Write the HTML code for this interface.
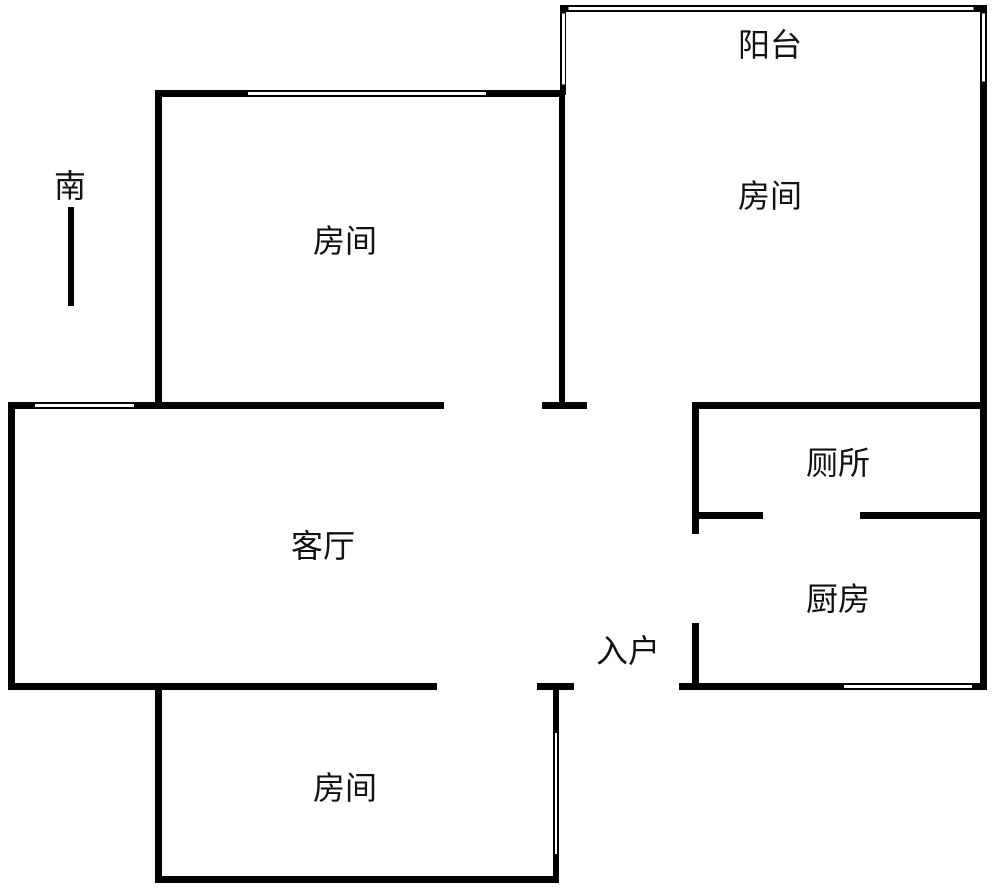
<!DOCTYPE html>
<html><head><meta charset="utf-8"><style>
html,body{margin:0;padding:0;background:#fff;}
svg{display:block;}
text{font-family:"Liberation Sans","Noto Sans CJK SC",sans-serif;font-size:32px;fill:#111;text-anchor:middle;}
</style></head><body>
<svg width="1000" height="893" viewBox="0 0 1000 893" xmlns="http://www.w3.org/2000/svg">
<g fill="#000">
<rect x="68" y="207" width="6" height="99"/>
<rect x="155" y="90" width="410" height="7"/>
<rect x="155" y="90" width="7" height="318"/>
<rect x="559" y="90" width="6" height="318"/>
<rect x="542" y="402" width="45" height="7"/>
<rect x="8" y="402" width="436" height="7"/>
<rect x="8" y="402" width="7" height="288"/>
<rect x="8" y="683" width="429" height="7"/>
<rect x="560" y="5" width="6" height="90"/>
<rect x="560" y="5" width="427" height="7"/>
<rect x="980" y="5" width="7" height="685"/>
<rect x="692" y="402" width="295" height="7"/>
<rect x="692" y="402" width="7" height="132"/>
<rect x="692" y="512" width="71" height="7"/>
<rect x="860" y="512" width="127" height="7"/>
<rect x="692" y="623" width="7" height="67"/>
<rect x="679" y="683" width="308" height="7"/>
<rect x="537" y="683" width="37" height="7"/>
<rect x="553" y="683" width="6" height="200"/>
<rect x="155" y="683" width="7" height="200"/>
<rect x="155" y="876" width="404" height="7"/>
</g>
<g fill="#fff" stroke="#000" stroke-width="1">
<rect x="247.5" y="91.5" width="239" height="4"/>
<rect x="34.5" y="403.5" width="100" height="4"/>
<rect x="561.5" y="13" width="4" height="72"/>
<rect x="568" y="6.5" width="406" height="4"/>
<rect x="981.5" y="13" width="4" height="69"/>
<rect x="843.5" y="684.5" width="129" height="4"/>
<rect x="554.5" y="732.5" width="3" height="122"/>
</g>
<text x="70" y="197">南</text>
<text x="770" y="56">阳台</text>
<text x="345" y="252">房间</text>
<text x="770" y="207">房间</text>
<text x="838" y="474">厕所</text>
<text x="838" y="610">厨房</text>
<text x="323" y="557">客厅</text>
<text x="628" y="662">入户</text>
<text x="345" y="799">房间</text>
</svg>
</body></html>
